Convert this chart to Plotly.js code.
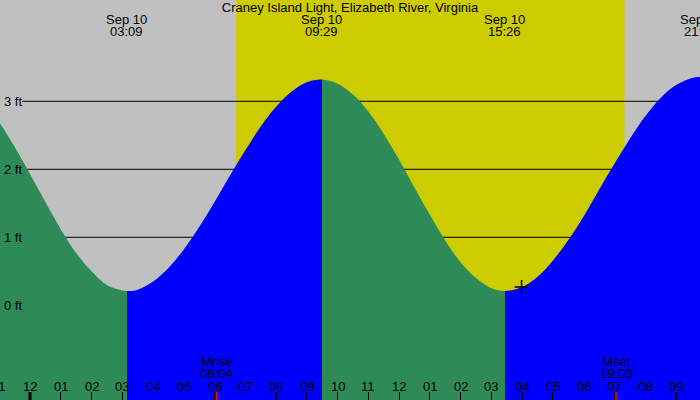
<!DOCTYPE html>
<html>
<head>
<meta charset="utf-8">
<script src="https://cdn.plot.ly/plotly-3.0.1.min.js"></script>
<style>
  html, body { margin: 0; padding: 0; background: #fff; }
  #chart { width: 700px; height: 400px; }
</style>
</head>
<body>
<div id="chart"></div>
<script>
/* global Plotly */

const station = "Craney Island Light, Elizabeth River, Virginia";

// tide height in ft, every half hour (plus the turns);
// hours counted from midnight Sep 10
const tideHours = [
    -2, -1.5, -1, -0.5, 0, 0.5, 1, 1.5, 2, 2.5, 3.15,
    3.5, 4, 4.5, 5, 5.5, 6, 6.5, 7, 7.5, 8, 8.5, 9, 9.483,
    10, 10.5, 11, 11.5, 12, 12.5, 13, 13.5, 14, 14.5, 15, 15.433,
    16, 16.5, 17, 17.5, 18, 18.5, 19, 19.5, 20, 20.5, 21, 21.5, 21.8,
];
const tideFeet = [
    3.18, 2.98, 2.69, 2.33, 1.93, 1.52, 1.12, 0.77, 0.50, 0.30, 0.21,
    0.23, 0.35, 0.55, 0.82, 1.15, 1.52, 1.91, 2.28, 2.63, 2.92, 3.14, 3.28, 3.32,
    3.26, 3.10, 2.85, 2.52, 2.14, 1.73, 1.33, 0.95, 0.63, 0.40, 0.25, 0.21,
    0.27, 0.42, 0.66, 0.96, 1.31, 1.70, 2.08, 2.45, 2.78, 3.05, 3.24, 3.34, 3.36,
];

// labelled highs and lows
const extremeDates = ["Sep 10", "Sep 10", "Sep 10", "Sep 10"];
const extremeTimes = ["03:09", "09:29", "15:26", "21:48"];

// sun and moon
const sunrise = "06:42";
const sunset = "19:20";
const moonEvents = ["Mrise", "Mset"];
const moonTimes = ["06:04", "19:03"];

// axes
const hourTicks = [-1, 0, 1, 2, 3, 4, 5, 6, 7, 8, 9, 10, 11, 12, 13, 14, 15, 16, 17, 18, 19, 20, 21];
const hourLabels = ["11", "12", "01", "02", "03", "04", "05", "06", "07", "08", "09", "10",
                    "11", "12", "01", "02", "03", "04", "05", "06", "07", "08", "09"];
const feetTicks = [0, 1, 2, 3];
const feetLabels = ["0 ft", "1 ft", "2 ft", "3 ft"];

// "now" marker
const nowHour = 15.98;
const nowFeet = 0.27;

const xRange = [-0.975, 21.78];
const yRange = [-1.393, 4.49];

const NIGHT = "#c0c0c0";
const DAY = "#cccc00";
const RISE = "#0000ff";
const FALL = "#2e8b57";

const toHours = (s) => {
    const [h, m] = s.split(":").map(Number);
    return h + m / 60;
};
const toPaperX = (h) => (h - xRange[0]) / (xRange[1] - xRange[0]);
const rowY = (py) => 1 - py / 400;

// one smooth curve; rising / falling colours switch where the tide turns
const t0 = tideHours[0];
const tN = tideHours[tideHours.length - 1];
const colorOf = (i) => (tideFeet[i + 1] > tideFeet[i] ? RISE : FALL);
const fillScale = [[0, colorOf(0)]];
for (let i = 1; i < tideFeet.length - 1; i++) {
    if ((tideFeet[i] - tideFeet[i - 1]) * (tideFeet[i + 1] - tideFeet[i]) < 0) {
        const off = (tideHours[i] - t0) / (tN - t0);
        fillScale.push([off, colorOf(i - 1)], [off, colorOf(i)]);
    }
}
fillScale.push([1, colorOf(tideFeet.length - 2)]);

const floorFeet = yRange[0] - 0.5;
const data = [
    {
        x: [t0, tN],
        y: [floorFeet, floorFeet],
        mode: "lines",
        line: { color: FALL, width: 1 },
        hoverinfo: "skip",
    },
    {
        x: tideHours,
        y: tideFeet,
        mode: "lines",
        line: { color: FALL, width: 0, shape: "spline", smoothing: 1 },
        fill: "tonexty",
        fillcolor: FALL,
        fillgradient: { type: "horizontal", colorscale: fillScale, start: t0, stop: tN },
        hoverinfo: "skip",
    },
    {
        x: [nowHour],
        y: [nowFeet],
        mode: "markers",
        marker: { symbol: "cross-thin", size: 10, line: { width: 1.5, color: "#000" } },
        hoverinfo: "skip",
    },
];

// background: night / day / night, then the ft lines
const shapes = [
    { type: "rect", xref: "x", yref: "paper", x0: xRange[0] - 1, x1: toHours(sunrise), y0: 0, y1: 1,
      fillcolor: NIGHT, line: { width: 0 }, layer: "below" },
    { type: "rect", xref: "x", yref: "paper", x0: toHours(sunrise), x1: toHours(sunset), y0: 0, y1: 1,
      fillcolor: DAY, line: { width: 0 }, layer: "below" },
    { type: "rect", xref: "x", yref: "paper", x0: toHours(sunset), x1: xRange[1] + 1, y0: 0, y1: 1,
      fillcolor: NIGHT, line: { width: 0 }, layer: "below" },
];
feetTicks.forEach((v) => {
    shapes.push({ type: "line", xref: "paper", yref: "y", x0: 22 / 700, x1: 1, y0: v, y1: v,
                  line: { color: "#000", width: 1 }, layer: "below" });
});
// midnight gets a heavy tick
shapes.push({ type: "line", xref: "x", yref: "paper", x0: 0, x1: 0, y0: 0, y1: 8 / 400,
              line: { color: "#000", width: 3 }, layer: "above" });
moonTimes.forEach((t) => {
    shapes.push({ type: "line", xref: "x", yref: "paper", x0: toHours(t), x1: toHours(t), y0: 0, y1: 8 / 400,
                  line: { color: "#ff0000", width: 1.5 }, layer: "above" });
});

const annotations = [];
const addText = (text, x, y, extra) => {
    annotations.push(Object.assign({
        text: text, xref: "paper", yref: "paper", x: x, y: y,
        xanchor: "center", yanchor: "middle", showarrow: false,
    }, extra || {}));
};

extremeTimes.forEach((t, i) => {
    const px = toPaperX(toHours(t));
    addText(extremeDates[i], px, rowY(19.5));
    addText(t, px, rowY(31));
});

moonTimes.forEach((t, i) => {
    const px = toPaperX(toHours(t));
    addText(moonEvents[i], px, rowY(361.5));
    addText(t, px, rowY(373));
});

hourTicks.forEach((h, i) => {
    addText(hourLabels[i], toPaperX(h), rowY(386));
});

feetTicks.forEach((v, i) => {
    addText(feetLabels[i], 2 / 700, v, { yref: "y", xanchor: "left" });
});

const layout = {
    width: 700,
    height: 400,
    margin: { l: 0, r: 0, t: 0, b: 0, pad: 0 },
    paper_bgcolor: NIGHT,
    plot_bgcolor: NIGHT,
    font: { family: "Liberation Sans, Arial, sans-serif", size: 13, color: "#000" },
    title: {
        text: station,
        font: { size: 13 },
        x: 0.5, xanchor: "center",
        y: rowY(7.5), yanchor: "middle", yref: "container",
    },
    xaxis: {
        range: xRange,
        tickvals: hourTicks,
        ticks: "inside",
        ticklen: 8,
        tickwidth: 1,
        tickcolor: "#000",
        showticklabels: false,
        showgrid: false,
        zeroline: false,
        showline: false,
    },
    yaxis: {
        range: yRange,
        showticklabels: false,
        showgrid: false,
        zeroline: false,
        showline: false,
        ticks: "",
    },
    shapes: shapes,
    annotations: annotations,
    showlegend: false,
};

Plotly.newPlot("chart", data, layout, { displayModeBar: false, staticPlot: true });
</script>
</body>
</html>
